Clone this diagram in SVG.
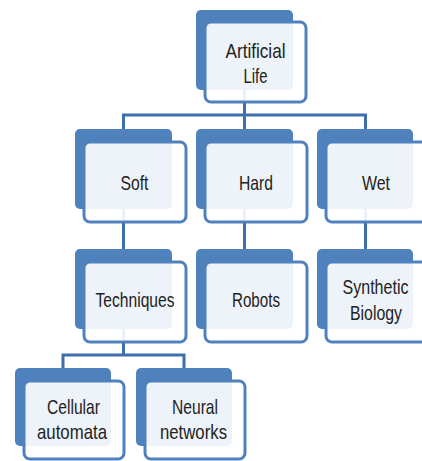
<svg xmlns="http://www.w3.org/2000/svg" width="422" height="461" viewBox="0 0 422 461">
<style>
.bk{fill:#4F81BD;}
.fr{fill:#FFFFFF;fill-opacity:0.9;stroke:#4F81BD;stroke-width:3;}
.cn{fill:none;stroke:#3F6FAA;stroke-width:3;}
text{font-family:"Liberation Sans","Arial",sans-serif;font-size:21px;fill:#222222;text-anchor:middle;}
</style>
<rect width="422" height="461" fill="#FFFFFF"/>
<g id="connectors">
<path class="cn" d="M244.5,90 V115 M123.5,129 V115 H365.5 V129 M244.5,115 V129"/>
<path class="cn" d="M123.5,209 V249"/>
<path class="cn" d="M244.5,209 V249"/>
<path class="cn" d="M365.5,209 V249"/>
<path class="cn" d="M123.5,329 V355 M63,368 V355 H184 V368"/>
</g>
<g id="artificial-life">
<rect class="bk" x="196" y="10" width="97" height="80" rx="5"/>
<rect class="fr" x="205" y="22" width="101" height="80" rx="6"/>
<text x="255.5" y="57.5" textLength="60" lengthAdjust="spacingAndGlyphs">Artificial</text>
<text x="255.5" y="83" textLength="24" lengthAdjust="spacingAndGlyphs">Life</text>
</g>
<g id="soft">
<rect class="bk" x="75" y="129" width="97" height="80" rx="5"/>
<rect class="fr" x="84" y="142" width="102" height="80" rx="6"/>
<text x="134.5" y="190" textLength="28" lengthAdjust="spacingAndGlyphs">Soft</text>
</g>
<g id="hard">
<rect class="bk" x="196" y="129" width="97" height="80" rx="5"/>
<rect class="fr" x="205" y="142" width="102" height="80" rx="6"/>
<text x="256" y="190" textLength="34" lengthAdjust="spacingAndGlyphs">Hard</text>
</g>
<g id="wet">
<rect class="bk" x="317" y="129" width="96" height="80" rx="5"/>
<rect class="fr" x="326" y="142" width="102" height="80" rx="6"/>
<text x="376" y="190" textLength="28" lengthAdjust="spacingAndGlyphs">Wet</text>
</g>
<g id="techniques">
<rect class="bk" x="75" y="249" width="97" height="80" rx="5"/>
<rect class="fr" x="84" y="262" width="102" height="80" rx="6"/>
<text x="135" y="307" textLength="79" lengthAdjust="spacingAndGlyphs">Techniques</text>
</g>
<g id="robots">
<rect class="bk" x="196" y="249" width="97" height="80" rx="5"/>
<rect class="fr" x="205" y="262" width="102" height="80" rx="6"/>
<text x="256" y="307" textLength="48" lengthAdjust="spacingAndGlyphs">Robots</text>
</g>
<g id="synthetic-biology">
<rect class="bk" x="317" y="249" width="96" height="80" rx="5"/>
<rect class="fr" x="326" y="262" width="102" height="80" rx="6"/>
<text x="375.5" y="294" textLength="66" lengthAdjust="spacingAndGlyphs">Synthetic</text>
<text x="376" y="320" textLength="52" lengthAdjust="spacingAndGlyphs">Biology</text>
</g>
<g id="cellular-automata">
<rect class="bk" x="15" y="368" width="96" height="78" rx="5"/>
<rect class="fr" x="24" y="381" width="100" height="78" rx="6"/>
<text x="73.5" y="414" textLength="53" lengthAdjust="spacingAndGlyphs">Cellular</text>
<text x="72" y="439" textLength="70" lengthAdjust="spacingAndGlyphs">automata</text>
</g>
<g id="neural-networks">
<rect class="bk" x="136" y="368" width="96" height="78" rx="5"/>
<rect class="fr" x="145" y="381" width="100" height="78" rx="6"/>
<text x="195" y="414" textLength="46" lengthAdjust="spacingAndGlyphs">Neural</text>
<text x="193.5" y="439" textLength="67" lengthAdjust="spacingAndGlyphs">networks</text>
</g>
</svg>
